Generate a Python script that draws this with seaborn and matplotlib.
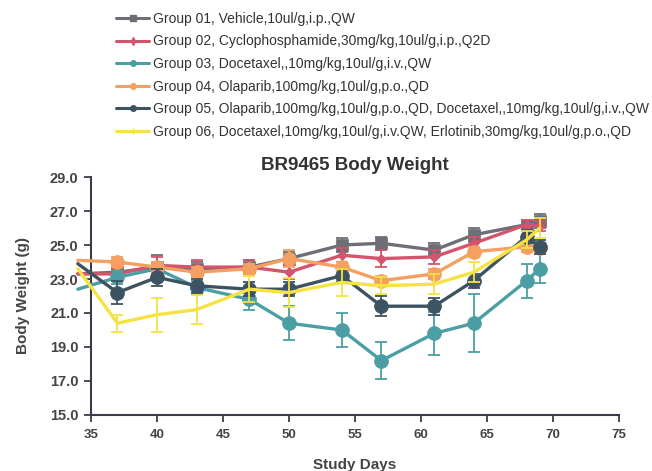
import matplotlib
matplotlib.use("Agg")
import matplotlib.pyplot as plt
from matplotlib.lines import Line2D
import seaborn as sns
import pandas as pd

# Study days and group means (g)
days = [34, 37, 40, 43, 47, 50, 54, 57, 61, 64, 68, 69]

g01 = [23.3, 23.4, 23.7, 23.6, 23.7, 24.2, 25.0, 25.1, 24.7, 25.6, 26.2, 26.4]
g02 = [23.3, 23.3, 23.8, 23.7, 23.7, 23.4, 24.4, 24.2, 24.3, 25.1, 26.2, 26.1]
g03 = [22.4, 23.1, 23.6, 22.5, 21.8, 20.4, 20.0, 18.2, 19.8, 20.4, 22.9, 23.6]
g04 = [24.1, 24.0, 23.7, 23.4, 23.6, 24.2, 23.7, 22.9, 23.3, 24.6, 24.9, 24.8]
g05 = [23.9, 22.2, 23.1, 22.6, 22.4, 22.4, 23.2, 21.4, 21.4, 22.9, 25.5, 24.9]
g06 = [23.6, 20.4, 20.9, 21.2, 22.4, 22.2, 22.8, 22.6, 22.7, 23.4, 25.3, 26.0]

# SEM
e01 = [0.3, 0.3, 0.7, 0.4, 0.4, 0.4, 0.4, 0.4, 0.4, 0.4, 0.3, 0.4]
e02 = [0.3, 0.3, 0.5, 0.4, 0.4, 0.4, 0.4, 0.5, 0.4, 0.4, 0.3, 0.3]
e03 = [0.3, 0.4, 0.3, 0.4, 0.6, 1.0, 1.0, 1.1, 1.25, 1.7, 1.0, 0.85]
e04 = [0.3, 0.3, 0.3, 0.3, 0.3, 0.5, 0.3, 0.3, 0.3, 0.3, 0.3, 0.3]
e05 = [0.3, 0.7, 0.5, 0.4, 0.4, 0.4, 0.4, 0.6, 0.5, 0.4, 0.4, 0.4]
e06 = [0.3, 0.5, 1.0, 0.85, 0.75, 0.85, 0.8, 0.5, 0.6, 0.6, 0.5, 0.6]

labels = [
    "Group 01, Vehicle,10ul/g,i.p.,QW",
    "Group 02, Cyclophosphamide,30mg/kg,10ul/g,i.p.,Q2D",
    "Group 03, Docetaxel,,10mg/kg,10ul/g,i.v.,QW",
    "Group 04, Olaparib,100mg/kg,10ul/g,p.o.,QD",
    "Group 05, Olaparib,100mg/kg,10ul/g,p.o.,QD, Docetaxel,,10mg/kg,10ul/g,i.v.,QW",
    "Group 06, Docetaxel,10mg/kg,10ul/g,i.v.QW, Erlotinib,30mg/kg,10ul/g,p.o.,QD",
]
colors = ["#6e6e76", "#d3546c", "#4b9ea3", "#f4a062", "#3e5361", "#f7e244"]
markers = ["s", "D", "o", "o", "o", None]
msizes = [9, 5, 10, 10, 10, 0]

sns.set_theme(style="ticks")
plt.rcParams["font.family"] = ["Liberation Sans", "DejaVu Sans"]

fig = plt.figure(figsize=(6.52, 4.71), dpi=100)
ax = fig.add_axes([0.1396, 0.1189, 0.8098, 0.5053])

means = [g01, g02, g03, g04, g05, g06]
sems = [e01, e02, e03, e04, e05, e06]

for i, (m, e) in enumerate(zip(means, sems)):
    df = pd.DataFrame({"day": days, "bw": m})
    ax.errorbar(days[1:], m[1:], yerr=e[1:], fmt="none", ecolor=colors[i],
                elinewidth=1.3, capsize=4, capthick=1.3, zorder=2 + i)
    kw = {}
    if markers[i]:
        kw = dict(marker=markers[i], markersize=msizes[i], markevery=slice(1, None),
                  markeredgecolor=colors[i], markeredgewidth=0.5)
    sns.lineplot(data=df, x="day", y="bw", ax=ax, color=colors[i], linewidth=2.4,
                 sort=False, clip_on=False, zorder=2 + i, **kw)

ax.set_xlim(35, 75)
ax.set_ylim(15, 29)
ax.set_xticks(range(35, 76, 5))
ax.set_yticks(range(15, 30, 2))
ax.set_yticklabels([f"{v:.1f}" for v in range(15, 30, 2)])

for s in ["top", "right"]:
    ax.spines[s].set_visible(False)
for s in ["left", "bottom"]:
    ax.spines[s].set_color("#3b3b4c")
    ax.spines[s].set_linewidth(1.5)
ax.tick_params(axis="both", colors="#3b3b4c", width=1.3, length=5)
ax.tick_params(axis="y", labelsize=10.5, labelcolor="#444444", pad=4)
ax.tick_params(axis="x", labelsize=9.5, labelcolor="#444444", pad=5)
for t in ax.get_xticklabels() + ax.get_yticklabels():
    t.set_fontweight("bold")

ax.set_xlabel("Study Days", fontsize=11, fontweight="bold", color="#444444", labelpad=12)
ax.set_ylabel("Body Weight (g)", fontsize=11, fontweight="bold", color="#444444", labelpad=14)
ax.set_title("BR9465 Body Weight", fontsize=13.5, fontweight="bold", color="#333333", pad=5)

handles = []
leg_markers = ["s", "d", "o", "o", "o", "+"]
for i in range(6):
    handles.append(Line2D([0], [0], color=colors[i], linewidth=2.2, marker=leg_markers[i],
                          markersize=4, markeredgecolor=colors[i]))
fig.legend(handles, labels, loc="upper left", bbox_to_anchor=(0.178, 0.975),
           frameon=False, fontsize=10, handlelength=2.4, handletextpad=0.25,
           labelspacing=0.62, borderpad=0, borderaxespad=0, labelcolor="#333333")

fig.savefig("out.png", dpi=100)
